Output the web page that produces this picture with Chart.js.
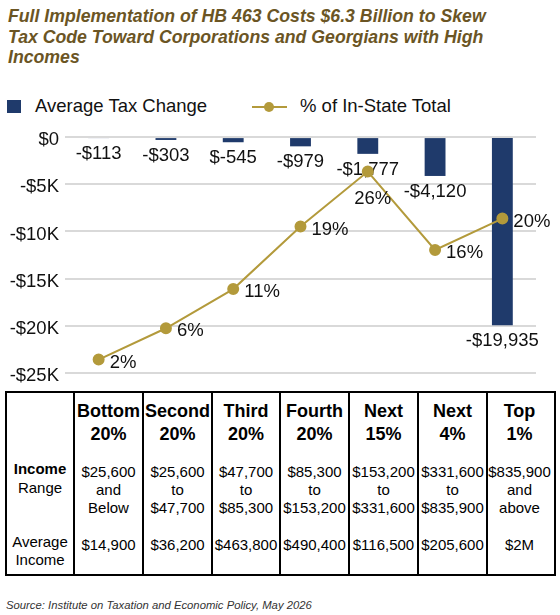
<!DOCTYPE html>
<html>
<head>
<meta charset="utf-8">
<script src="https://cdn.jsdelivr.net/npm/chart.js@4/dist/chart.umd.min.js"></script>
<style>
  body { margin: 0; background: #fff; font-family: "Liberation Sans", Arial, sans-serif; }
  #wrap { position: relative; width: 560px; height: 615px; overflow: hidden; }
  #title { position: absolute; left: 8px; top: 6px; width: 500px; font-size: 17.7px; line-height: 20.5px;
    font-weight: bold; font-style: italic; color: #6b5524; }
  .leg { position: absolute; font-size: 18.5px; color: #111; line-height: 22px; top: 95px; }
  #legBox { position: absolute; left: 7px; top: 100px; width: 14px; height: 13px; background: #1f3a6b; }
  #legLine { position: absolute; left: 252px; top: 106px; width: 35px; height: 2px; background: #b39a3b; }
  #legDot { position: absolute; left: 264px; top: 102px; width: 10px; height: 10px; border-radius: 50%; background: #b39a3b; }
  #chartBox { position: absolute; left: 0; top: 120px; width: 560px; height: 270px; }
  #tbl { position: absolute; left: 5px; top: 391px; width: 551px; height: 185px; box-sizing: border-box;
    border: 2px solid #000; display: flex; }
  .col { position: relative; height: 100%; box-sizing: border-box; text-align: center; color: #000; }
  .col + .col { border-left: 2px solid #000; }
  .col div { position: absolute; left: -4px; right: -4px; white-space: nowrap; }
  .h { top: 7px; font-size: 18px; line-height: 23px; font-weight: bold; }
  .r { top: 70px; font-size: 15px; line-height: 18px; }
  .a { top: 143px; font-size: 15px; line-height: 18px; }
  .first .r { top: 66px; line-height: 19px; }
  .first .a { top: 140px; }
  #source { position: absolute; left: 6px; top: 599px; font-size: 11.3px; font-style: italic; color: #333; }
</style>
</head>
<body>
<div id="wrap">
  <div id="title">Full Implementation of HB 463 Costs $6.3 Billion to Skew Tax Code Toward Corporations and Georgians with High Incomes</div>
  <div id="legBox"></div>
  <div class="leg" style="left:35px">Average Tax Change</div>
  <div id="legLine"></div>
  <div id="legDot"></div>
  <div class="leg" style="left:300px">% of In-State Total</div>
  <div id="chartBox"><canvas id="chart"></canvas></div>
  <div id="tbl"></div>
  <div id="source">Source: Institute on Taxation and Economic Policy, May 2026</div>
</div>
<script>
const groups = ['Bottom 20%', 'Second 20%', 'Third 20%', 'Fourth 20%', 'Next 15%', 'Next 4%', 'Top 1%'];
const taxChange = [-113, -303, -545, -979, -1777, -4120, -19935];
const taxLabels = ['-$113', '-$303', '$-545', '-$979', '-$1,777', '-$4,120', '-$19,935'];
const shareOfTotal = [2, 6, 11, 19, 26, 16, 20];
const shareLabels = ['2%', '6%', '11%', '19%', '26%', '16%', '20%'];
const shareLabelPos = ['right', 'right', 'right', 'right', 'below', 'right', 'right'];
const yTicks = [0, -5000, -10000, -15000, -20000, -25000];
const yTickLabels = ['$0', '-$5K', '-$10K', '-$15K', '-$20K', '-$25K'];
const incomeRanges = [
  ['$25,600', 'and', 'Below'],
  ['$25,600', 'to', '$47,700'],
  ['$47,700', 'to', '$85,300'],
  ['$85,300', 'to', '$153,200'],
  ['$153,200', 'to', '$331,600'],
  ['$331,600', 'to', '$835,900'],
  ['$835,900', 'and', 'above']
];
const avgIncome = ['$14,900', '$36,200', '$463,800', '$490,400', '$116,500', '$205,600', '$2M'];

const NAVY = '#1f3a6b';
const GOLD = '#b39a3b';
const FONT = '"Liberation Sans", Arial, sans-serif';

// table under the chart
const tbl = document.getElementById('tbl');
const colWidths = [66, 69, 69, 68, 69, 69, 69, 65];
function addCol(w, cls, head, range, avg) {
  const c = document.createElement('div');
  c.className = 'col' + (cls ? ' ' + cls : '');
  c.style.width = w + 'px';
  c.innerHTML = '<div class="h">' + head.join('<br>') + '</div>' +
    '<div class="r">' + range.join('<br>') + '</div>' +
    '<div class="a">' + avg.join('<br>') + '</div>';
  tbl.appendChild(c);
}
addCol(colWidths[0], 'first', [], ['<b>Income</b>', 'Range'], ['Average', 'Income']);
groups.forEach((g, i) => {
  addCol(colWidths[i + 1], '', g.split(' '), incomeRanges[i], [avgIncome[i]]);
});

// labels for bars and points
const labelPlugin = {
  id: 'labels',
  afterDatasetDraw(chart, args) {
    if (args.index !== 0) return;
    const ctx = chart.ctx;
    ctx.save();
    ctx.font = '18.5px ' + FONT;
    ctx.fillStyle = '#111';
    ctx.textAlign = 'center';
    ctx.textBaseline = 'middle';
    args.meta.data.forEach((bar, i) => {
      ctx.fillText(taxLabels[i], bar.x, bar.y + 16);
    });
    ctx.restore();
  },
  afterDatasetsDraw(chart) {
    const ctx = chart.ctx;
    const meta = chart.getDatasetMeta(1);
    ctx.save();
    ctx.font = '18.5px ' + FONT;
    ctx.fillStyle = '#111';
    ctx.textBaseline = 'middle';
    meta.data.forEach((pt, i) => {
      if (shareLabelPos[i] === 'below') {
        ctx.textAlign = 'center';
        ctx.fillText(shareLabels[i], pt.x + 5, pt.y + 27);
      } else {
        ctx.textAlign = 'left';
        ctx.fillText(shareLabels[i], pt.x + 11, pt.y + 3);
      }
    });
    ctx.restore();
  }
};

new Chart(document.getElementById('chart'), {
  data: {
    labels: groups,
    datasets: [{
      type: 'bar',
      label: 'Average Tax Change',
      data: taxChange,
      backgroundColor: NAVY,
      categoryPercentage: 1,
      barPercentage: 0.31,
      yAxisID: 'y',
      order: 2
    }, {
      type: 'line',
      label: '% of In-State Total',
      data: shareOfTotal,
      borderColor: GOLD,
      backgroundColor: GOLD,
      borderWidth: 2,
      pointRadius: 5,
      pointHoverRadius: 5,
      tension: 0,
      yAxisID: 'y1',
      order: 1
    }]
  },
  options: {
    responsive: true,
    maintainAspectRatio: false,
    animation: false,
    layout: { padding: { top: 16, right: 24, bottom: 17, left: 0 } },
    plugins: { legend: { display: false }, tooltip: { enabled: false } },
    scales: {
      x: { display: false },
      y: {
        min: -25000,
        max: 0,
        afterFit(scale) { scale.width = 65; },
        afterBuildTicks(scale) { scale.ticks = yTicks.map(v => ({ value: v })); },
        border: { display: false },
        grid: { color: '#d9d9d9', lineWidth: 2, drawTicks: false },
        ticks: {
          padding: 6,
          labelOffset: 3,
          color: '#111',
          font: { family: FONT, size: 18.5 },
          callback: (v) => yTickLabels[yTicks.indexOf(v)]
        }
      },
      y1: { display: false, min: 0.3, max: 30.4 }
    }
  },
  plugins: [labelPlugin]
});
</script>
</body>
</html>
